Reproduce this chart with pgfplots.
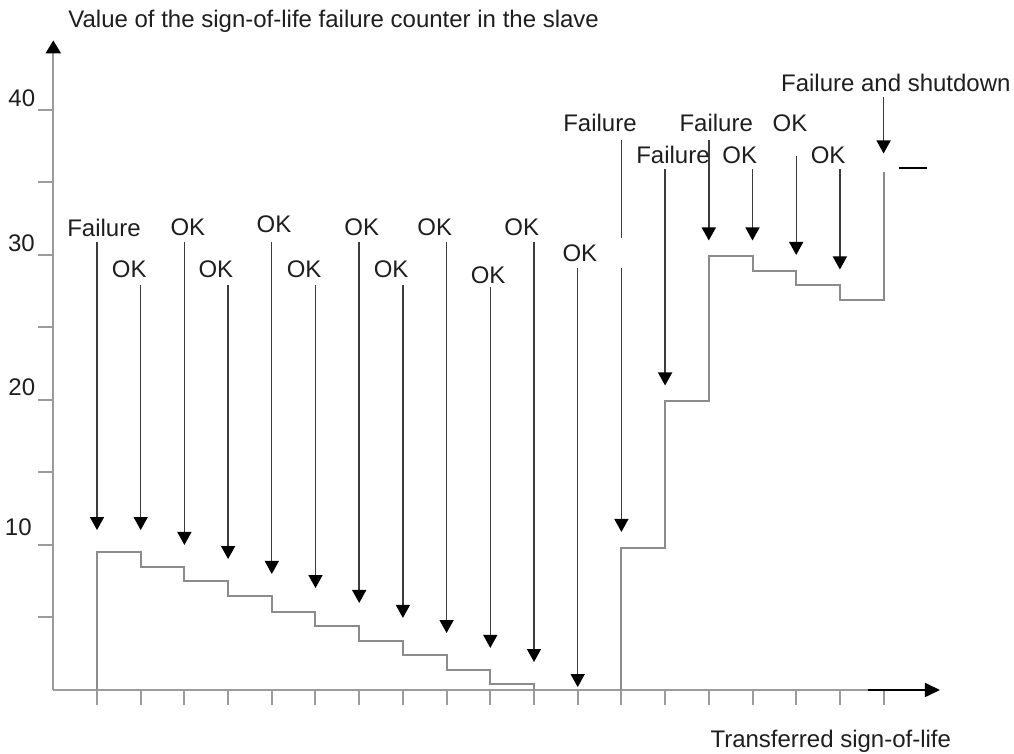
\documentclass[border=0pt]{standalone}
\usepackage{pgfplots}
\pgfplotsset{compat=1.18}
\usetikzlibrary{arrows.meta}
\usepackage{fontspec}
\setmainfont{Liberation Sans}
\definecolor{axisgray}{RGB}{155,155,155}
\definecolor{stepgray}{RGB}{140,140,140}
\definecolor{arrowgray}{RGB}{60,60,60}
\definecolor{txt}{RGB}{30,30,30}

\begin{document}
\begin{tikzpicture}[lab/.style={inner sep=0pt, font=\fontsize{12}{14.4}\selectfont, text=txt}]
\useasboundingbox (-26.65pt,-32pt) rectangle (480.35pt,345pt);
\begin{axis}[
  anchor=south west, at={(0pt,0pt)},
  x=21.85pt, y=7.25pt,
  xmin=0, xmax=19, ymin=0, ymax=44.8,
  enlargelimits=false,
  clip=false,
  axis lines=left,
  axis line style={axisgray, line width=1.1pt},
  x axis line style={-},
  y axis line style={-{Triangle[color=black,width=7.5pt,length=6.5pt]}},
  xtick={1,...,19}, ytick={5,10,...,40},
  xticklabel={\relax}, yticklabel={\relax},
  tick align=outside,
  major tick length=7.5pt,
  tick style={axisgray, line width=1pt},
  arr/.style={arrowgray, line width=0.7pt, -{Triangle[color=black,width=7pt,length=6.5pt]}},
]
% x axis arrow
\addplot[black, line width=0.9pt, -{Triangle[width=7pt,length=7.5pt]}] coordinates {(18.64,0) (20.29,0)};

% step series (counter value)
\addplot[stepgray, line width=1pt] coordinates {
 (1,0) (1,9.5) (2,9.5) (2,8.5) (3,8.5) (3,7.5) (4,7.5) (4,6.5) (5,6.5) (5,5.4)
 (6,5.4) (6,4.4) (7,4.4) (7,3.4) (8,3.4) (8,2.4) (9,2.4) (9,1.4) (10,1.4) (10,0.4)
 (11,0.4) (11,0)};
\addplot[stepgray, line width=1pt] coordinates {
 (13,0) (13,9.8) (14,9.8) (14,19.9) (15,19.9) (15,29.9) (16,29.9) (16,28.9)
 (17,28.9) (17,27.9) (18,27.9) (18,26.9) (19,26.9) (19,35.75)};
\addplot[black, line width=0.9pt] coordinates {(19.35,36) (20,36)};

% event arrows
\addplot[arr] coordinates {(1,30.9) (1,11.03)};
\addplot[arr] coordinates {(2,27.9) (2,11.03)};
\addplot[arr] coordinates {(3,30.9) (3,10.0)};
\addplot[arr] coordinates {(4,27.9) (4,9.03)};
\addplot[arr] coordinates {(5,30.9) (5,8.0)};
\addplot[arr] coordinates {(6,27.9) (6,7.03)};
\addplot[arr] coordinates {(7,30.9) (7,6.0)};
\addplot[arr] coordinates {(8,27.9) (8,4.97)};
\addplot[arr] coordinates {(9,30.9) (9,3.93)};
\addplot[arr] coordinates {(10,27.8) (10,2.9)};
\addplot[arr] coordinates {(11,30.9) (11,1.93)};
\addplot[arr] coordinates {(12,29.1) (12,0.2)};
\addplot[arrowgray, line width=0.7pt] coordinates {(13,37.9) (13,31.2)};
\addplot[arr] coordinates {(13,29.1) (13,10.9)};
\addplot[arr] coordinates {(14,35.9) (14,21.0)};
\addplot[arr] coordinates {(15,37.9) (15,31.0)};
\addplot[arr] coordinates {(16,35.9) (16,31.0)};
\addplot[arr] coordinates {(17,36.8) (17,30.0)};
\addplot[arr] coordinates {(18,35.9) (18,29.0)};
\addplot[arr] coordinates {(19,40.9) (19,37.0)};

% tick labels
\node[lab] at (axis cs:-0.72,40.8) {40};
\node[lab] at (axis cs:-0.73,30.8) {30};
\node[lab] at (axis cs:-0.72,20.9) {20};
\node[lab] at (axis cs:-0.8,11.2) {10};

% event labels
\node[lab] at (axis cs:1.16,31.9) {Failure};
\node[lab] at (axis cs:1.74,29.0) {OK};
\node[lab] at (axis cs:3.08,31.9) {OK};
\node[lab] at (axis cs:3.72,29.0) {OK};
\node[lab] at (axis cs:5.05,32.1) {OK};
\node[lab] at (axis cs:5.74,29.0) {OK};
\node[lab] at (axis cs:7.06,31.9) {OK};
\node[lab] at (axis cs:7.73,29.0) {OK};
\node[lab] at (axis cs:8.73,31.9) {OK};
\node[lab] at (axis cs:9.95,28.6) {OK};
\node[lab] at (axis cs:10.72,31.9) {OK};
\node[lab] at (axis cs:12.05,30.1) {OK};
\node[lab] at (axis cs:12.51,39.1) {Failure};
\node[lab] at (axis cs:14.18,36.9) {Failure};
\node[lab] at (axis cs:15.17,39.1) {Failure};
\node[lab] at (axis cs:15.71,36.9) {OK};
\node[lab] at (axis cs:16.86,39.1) {OK};
\node[lab] at (axis cs:17.73,36.9) {OK};
\node[lab] at (axis cs:19.28,41.9) {Failure and shutdown};

% axis titles
\node[lab, anchor=base west] at (axis cs:0.336,45.72) {Value of the sign-of-life failure counter in the slave};
\node[lab, anchor=base west] at (axis cs:15.03,-4.0) {Transferred sign-of-life};
\end{axis}
\end{tikzpicture}
\end{document}
